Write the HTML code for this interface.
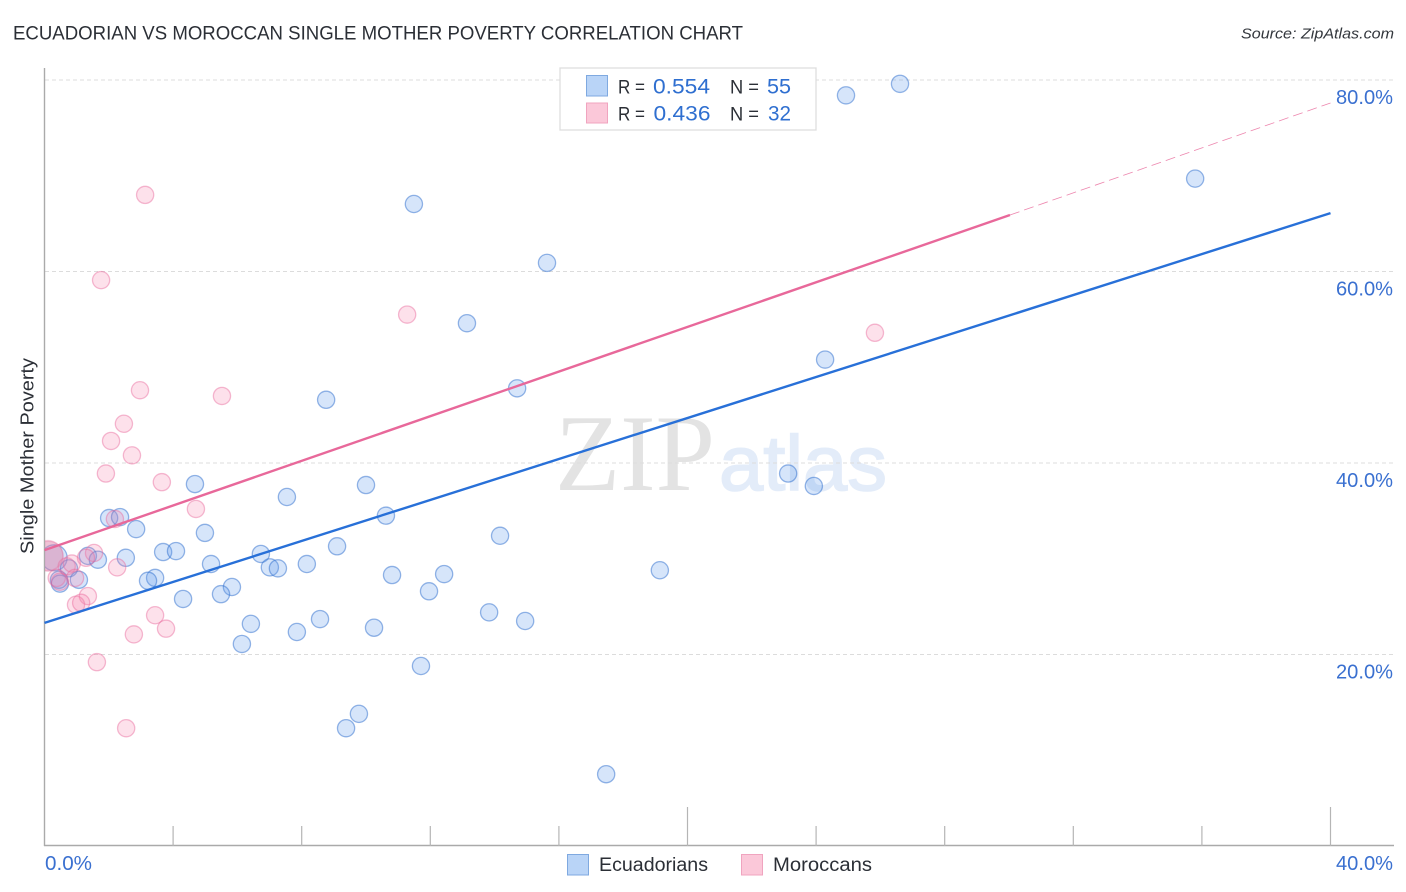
<!DOCTYPE html>
<html>
<head>
<meta charset="utf-8">
<title>Ecuadorian vs Moroccan Single Mother Poverty Correlation Chart</title>
<style>
html,body{margin:0;padding:0;background:#fff;}
svg{display:block;font-family:"Liberation Sans",sans-serif;}
</style>
</head>
<body>
<svg id="chart" width="1406" height="892" viewBox="0 0 1406 892" xmlns="http://www.w3.org/2000/svg">
  <defs><clipPath id="plot-clip"><rect x="45" y="60" width="1349" height="786"/></clipPath></defs>
  <text x="13" y="39.5" font-size="19.5" fill="#2b2f36" textLength="730" lengthAdjust="spacingAndGlyphs">ECUADORIAN VS MOROCCAN SINGLE MOTHER POVERTY CORRELATION CHART</text>
  <text x="1241" y="38.5" font-size="15" font-style="italic" fill="#33373d" textLength="153" lengthAdjust="spacingAndGlyphs">Source: ZipAtlas.com</text>
  <g>
    <text x="555" y="490" font-family="'Liberation Serif',serif" font-size="109" fill="#e3e3e3" textLength="160" lengthAdjust="spacingAndGlyphs">ZIP</text>
    <text x="719" y="490" font-family="'Liberation Sans',sans-serif" font-size="78" fill="#e3ecf9" stroke="#e3ecf9" stroke-width="1.6" textLength="168" lengthAdjust="spacingAndGlyphs">atlas</text>
  </g>
  <g id="grid"></g>
  <g id="axes"></g>
  <g id="ticks"></g>
  <g id="tick-labels"></g>
  <text transform="translate(33.5,456) rotate(-90)" text-anchor="middle" font-size="18.5" fill="#2b2f36" textLength="196" lengthAdjust="spacingAndGlyphs">Single Mother Poverty</text>
  <g id="points" clip-path="url(#plot-clip)"></g>
  <g id="trends"></g>

  <g>
    <rect x="560" y="68" width="256" height="62" fill="#fff" stroke="#dedede" stroke-width="1.3"/>
    <rect x="586.5" y="75.5" width="21" height="20.5" fill="#b9d4f7" stroke="#7fa9e0" stroke-width="1"/>
    <rect x="586.5" y="103" width="21" height="20" fill="#fbc8d9" stroke="#f0a4bf" stroke-width="1"/>
    <text x="618" y="93.5" font-size="19" fill="#2b2f36" textLength="27" lengthAdjust="spacingAndGlyphs">R =</text>
    <text x="653" y="93.5" font-size="21" fill="#2f6fd0" textLength="57" lengthAdjust="spacingAndGlyphs">0.554</text>
    <text x="730" y="93.5" font-size="19" fill="#2b2f36" textLength="29" lengthAdjust="spacingAndGlyphs">N =</text>
    <text x="767" y="93.5" font-size="21" fill="#2f6fd0" textLength="24" lengthAdjust="spacingAndGlyphs">55</text>
    <text x="618" y="120.5" font-size="19" fill="#2b2f36" textLength="27" lengthAdjust="spacingAndGlyphs">R =</text>
    <text x="653.5" y="120.5" font-size="21" fill="#2f6fd0" textLength="57" lengthAdjust="spacingAndGlyphs">0.436</text>
    <text x="730" y="120.5" font-size="19" fill="#2b2f36" textLength="29" lengthAdjust="spacingAndGlyphs">N =</text>
    <text x="768" y="120.5" font-size="21" fill="#2f6fd0" textLength="23" lengthAdjust="spacingAndGlyphs">32</text>
  </g>

  <g>
    <rect x="567.5" y="854.5" width="21" height="20.5" fill="#b9d4f7" stroke="#7fa9e0" stroke-width="1"/>
    <text x="599" y="871" font-size="19" fill="#2b2f36" textLength="109" lengthAdjust="spacingAndGlyphs">Ecuadorians</text>
    <rect x="741.5" y="854.5" width="21" height="20.5" fill="#fbc8d9" stroke="#f0a4bf" stroke-width="1"/>
    <text x="773" y="871" font-size="19" fill="#2b2f36" textLength="99" lengthAdjust="spacingAndGlyphs">Moroccans</text>
  </g>
</svg>
<script>
const yTicks = [20, 40, 60, 80];
const yTickLabels = ["20.0%", "40.0%", "60.0%", "80.0%"];
const xTicks = [4, 8, 12, 16, 20, 24, 28, 32, 36, 40];
const xMajorTicks = [20, 40];
const xEndValues = [0, 40];
const xEndLabels = ["0.0%", "40.0%"];

const ecuadorianX = [26.61,24.93,35.79,11.49,15.63,13.14,24.28,14.70,8.76,23.13,23.93,4.68,10.00,7.54,10.62,2.01,2.35,2.85,4.99,14.17,9.10,3.69,4.09,6.73,2.53,1.35,1.66,5.18,8.16,7.01,7.26,19.14,0.76,10.81,12.43,1.07,3.44,3.22,0.45,0.48,5.83,5.49,11.96,4.31,13.83,8.57,14.95,6.42,10.25,7.85,6.14,11.71,9.78,9.38,17.47];
const ecuadorianY = [79.6,78.4,69.7,67.05,60.9,54.6,50.8,47.8,46.6,38.9,37.6,37.8,37.7,36.45,34.5,34.25,34.35,33.1,32.7,32.4,31.3,30.7,30.8,30.5,30.1,30.3,29.9,29.45,29.45,29.1,29.0,28.8,29.0,28.3,28.4,27.8,28.0,27.7,27.8,27.4,27.05,26.3,26.6,25.8,24.4,23.7,23.5,23.2,22.8,22.35,21.1,18.8,13.8,12.3,7.5];
const ecuadorianLargeX = [0.30];
const ecuadorianLargeY = [30.1];

const moroccanX = [3.13,1.76,11.28,25.83,2.97,5.52,2.47,2.07,2.72,1.91,3.65,4.71,2.19,1.54,1.29,2.26,0.69,0.85,0.38,0.95,0.48,1.35,0.98,1.14,3.44,3.78,2.78,1.63,2.54];
const moroccanY = [68.0,59.1,55.5,53.6,47.6,47.0,44.1,42.3,40.8,38.9,38.0,35.2,34.15,30.6,30.1,29.1,29.2,29.5,28.0,28.0,27.6,26.1,25.2,25.4,24.1,22.7,22.1,19.2,12.3];
const moroccanLargeX = [0.11, 0.12, 0.10];
const moroccanLargeY = [30.3, 30.25, 30.35];

const ecuadorianTrendX = [0, 40];
const ecuadorianTrendY = [23.3, 66.1];
const moroccanTrendX = [0, 30.03];
const moroccanTrendY = [30.9, 65.9];
const moroccanExtensionX = [30.03, 40];
const moroccanExtensionY = [65.9, 77.6];

const xScale = v => 44.5 + v * 32.15;
const yScale = v => 846 - v * 9.575;
const NS = "http://www.w3.org/2000/svg";

function make(parent, tag, attrs, text) {
  const el = document.createElementNS(NS, tag);
  for (const k in attrs) el.setAttribute(k, attrs[k]);
  if (text !== undefined) el.textContent = text;
  document.getElementById(parent).appendChild(el);
  return el;
}

yTicks.forEach((v, i) => {
  const g = make("grid", "line", {x1: 45, x2: 1394, y1: yScale(v), y2: yScale(v), stroke: "#dcdcdc", "stroke-width": 1, "stroke-dasharray": "4 3"});
  
  
  const t = make("tick-labels", "text", {x: 1393, y: yScale(v) + 24, "text-anchor": "end", "font-size": 20, fill: "#3a70d0", textLength: 57, lengthAdjust: "spacingAndGlyphs"}, yTickLabels[i]);
  
  
});

const yAxis = make("axes", "line", {x1: 44.5, x2: 44.5, y1: 68, y2: 846, stroke: "#aaaaaa", "stroke-width": 1.4});


const xAxis = make("axes", "line", {x1: 44, x2: 1394, y1: 845.5, y2: 845.5, stroke: "#aaaaaa", "stroke-width": 1.4});



xTicks.forEach(v => {
  const major = xMajorTicks.includes(v);
  const tick = make("ticks", "line", {x1: xScale(v), x2: xScale(v), y1: major ? 807 : 826, y2: 846, stroke: "#b5b5b5", "stroke-width": 1.2});
  
  
});

xEndValues.forEach((v, i) => {
  const isFirst = i === 0;
  const t = make("tick-labels", "text", {x: isFirst ? xScale(v) + 0.5 : 1393, y: 870, "text-anchor": isFirst ? "start" : "end", "font-size": 20, fill: "#3a70d0", textLength: isFirst ? 47 : 57, lengthAdjust: "spacingAndGlyphs"}, xEndLabels[i]);
  
  
});

const blueStyle = {fill: "rgba(95,155,235,0.26)", stroke: "rgba(45,110,205,0.5)", "stroke-width": 1.3};
const pinkStyle = {fill: "rgba(245,130,170,0.24)", stroke: "rgba(232,105,155,0.45)", "stroke-width": 1.3};
const pinkLargeStyle = {fill: "rgba(225,130,170,0.2)", stroke: "rgba(232,105,155,0.2)", "stroke-width": 1.2};

ecuadorianLargeX.forEach((v, i) => {
  const c = make("points", "circle", Object.assign({cx: xScale(v), cy: yScale(ecuadorianLargeY[i]), r: 13}, blueStyle));
  
  
});
ecuadorianX.forEach((v, i) => {
  const c = make("points", "circle", Object.assign({cx: xScale(v), cy: yScale(ecuadorianY[i]), r: 8.6}, blueStyle));
  
  
});
moroccanX.forEach((v, i) => {
  const c = make("points", "circle", Object.assign({cx: xScale(v), cy: yScale(moroccanY[i]), r: 8.6}, pinkStyle));
  
  
});
moroccanLargeX.forEach((v, i) => {
  const c = make("points", "circle", Object.assign({cx: xScale(v), cy: yScale(moroccanLargeY[i]), r: 15}, pinkLargeStyle));
  
  
});

const blueTrend = make("trends", "line", {x1: xScale(ecuadorianTrendX[0]), y1: yScale(ecuadorianTrendY[0]), x2: xScale(ecuadorianTrendX[1]), y2: yScale(ecuadorianTrendY[1]), stroke: "#2870d8", "stroke-width": 2.4});


const pinkTrend = make("trends", "line", {x1: xScale(moroccanTrendX[0]), y1: yScale(moroccanTrendY[0]), x2: xScale(moroccanTrendX[1]), y2: yScale(moroccanTrendY[1]), stroke: "#e8689a", "stroke-width": 2.4});


const pinkExt = make("trends", "line", {x1: xScale(moroccanExtensionX[0]), y1: yScale(moroccanExtensionY[0]), x2: xScale(moroccanExtensionX[1]), y2: yScale(moroccanExtensionY[1]), stroke: "#e8689a", "stroke-width": 0.8, "stroke-opacity": 0.8, "stroke-dasharray": "10 5"});


</script>
</body>
</html>
